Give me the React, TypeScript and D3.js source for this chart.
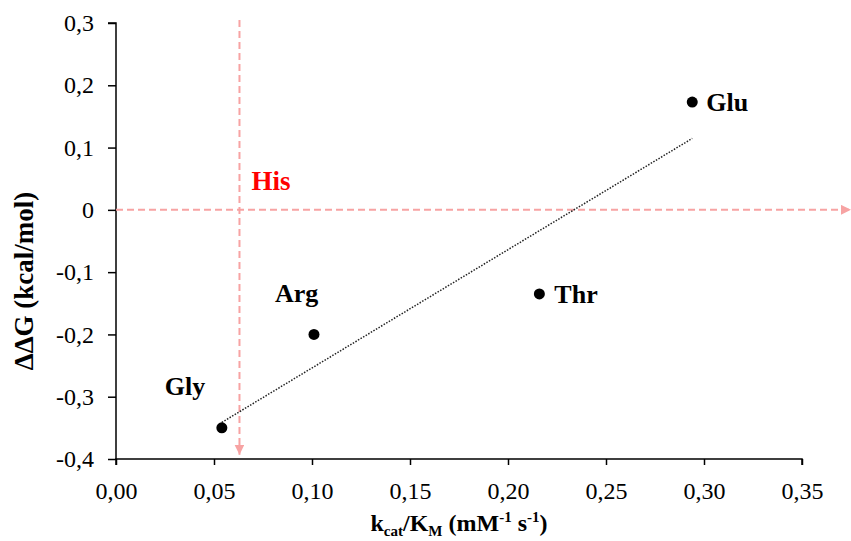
import { useEffect, useRef } from 'react';
import * as d3 from 'd3';

const residues = ['Gly', 'Arg', 'Thr', 'Glu'];
const kcatKm = [0.054, 0.101, 0.216, 0.294];
const ddG = [-0.35, -0.2, -0.135, 0.173];

const xTicks = [0, 0.05, 0.1, 0.15, 0.2, 0.25, 0.3, 0.35];
const yTicks = [-0.4, -0.3, -0.2, -0.1, 0, 0.1, 0.2, 0.3];

// His reference lines (data units)
const hisX = 0.063;
const hisY = 0;
const hisVTop = 0.305;
const hisVBottom = -0.393;
const hisHEnd = 0.375;

// label placement relative to each dot, in px
const labelOffset: Record<string, [number, number]> = {
  Gly: [-57, -33],
  Arg: [-39, -32],
  Thr: [15, 9],
  Glu: [14, 9],
};

const W = 851;
const H = 541;
const FONT = '"Liberation Serif", "Times New Roman", serif';
const PINK = '#f7a3a3';

export default function App() {
  const svgRef = useRef<SVGSVGElement>(null);

  useEffect(() => {
    if (!svgRef.current) return;
    const svg = d3.select(svgRef.current);
    svg.selectAll('*').remove();

    const x = d3.scaleLinear().domain([0, 0.35]).range([116, 802]);
    const y = d3.scaleLinear().domain([-0.4, 0.3]).range([459, 23]);

    const defs = svg.append('defs');
    defs.append('marker')
      .attr('id', 'arrow')
      .attr('viewBox', '0 0 10 10')
      .attr('refX', 10)
      .attr('refY', 5)
      .attr('markerWidth', 10)
      .attr('markerHeight', 10)
      .attr('markerUnits', 'userSpaceOnUse')
      .attr('orient', 'auto')
      .append('path')
      .attr('d', 'M0,0 L10,5 L0,10 Z')
      .attr('fill', PINK);

    // axes
    const yAxis = svg.append('g')
      .attr('transform', `translate(${x(0)},0)`)
      .call(d3.axisLeft(y).tickValues(yTicks).tickSize(8).tickPadding(14)
        .tickFormat(d => (+d === 0 ? '0' : (+d).toFixed(1).replace('.', ','))));
    const xAxis = svg.append('g')
      .attr('transform', `translate(0,${y(-0.4)})`)
      .call(d3.axisBottom(x).tickValues(xTicks).tickSize(6).tickPadding(17)
        .tickFormat(d => (+d).toFixed(2).replace('.', ',')));

    [xAxis, yAxis].forEach(ax => {
      ax.selectAll('.domain').attr('stroke', '#000').attr('stroke-width', 1.5);
      ax.selectAll('.tick line').attr('stroke', '#000').attr('stroke-width', 1.5);
      ax.selectAll('.tick text')
        .attr('fill', '#000')
        .attr('font-family', FONT)
        .attr('font-size', 24);
    });
    yAxis.select('.domain').attr('d', `M-8,${y(0.3)}H0V${y(-0.4)}`);
    xAxis.select('.domain').attr('d', `M${x(0)},6V0H${x(0.35)}V6`);

    // His reference lines
    svg.append('line')
      .attr('x1', x(0)).attr('x2', x(hisHEnd))
      .attr('y1', y(hisY)).attr('y2', y(hisY))
      .attr('stroke', PINK).attr('stroke-width', 2)
      .attr('stroke-dasharray', '7,4')
      .attr('marker-end', 'url(#arrow)');
    svg.append('line')
      .attr('x1', x(hisX)).attr('x2', x(hisX))
      .attr('y1', y(hisVTop)).attr('y2', y(hisVBottom))
      .attr('stroke', PINK).attr('stroke-width', 2)
      .attr('stroke-dasharray', '7,4')
      .attr('marker-end', 'url(#arrow)');
    svg.append('text')
      .attr('x', x(hisX) + 12)
      .attr('y', y(hisY) - 20)
      .attr('fill', '#ff0000')
      .attr('font-family', FONT)
      .attr('font-weight', 'bold')
      .attr('font-size', 27)
      .text('His');

    // linear trendline
    const pts = kcatKm.map((k, i) => [k, ddG[i]] as [number, number]);
    const mx = d3.mean(kcatKm)!;
    const my = d3.mean(ddG)!;
    const slope = d3.sum(pts, p => (p[0] - mx) * (p[1] - my)) / d3.sum(pts, p => (p[0] - mx) ** 2);
    const icpt = my - slope * mx;
    const [x0, x1] = d3.extent(kcatKm) as [number, number];
    svg.append('line')
      .attr('x1', x(x0)).attr('y1', y(slope * x0 + icpt))
      .attr('x2', x(x1)).attr('y2', y(slope * x1 + icpt))
      .attr('stroke', '#222').attr('stroke-width', 1.5)
      .attr('stroke-dasharray', '1.5,1.5');

    // points
    svg.selectAll('circle.pt')
      .data(pts)
      .join('circle')
      .attr('class', 'pt')
      .attr('cx', d => x(d[0]))
      .attr('cy', d => y(d[1]))
      .attr('r', 5.5)
      .attr('fill', '#000');

    svg.selectAll('text.lbl')
      .data(residues)
      .join('text')
      .attr('class', 'lbl')
      .attr('x', (d, i) => x(kcatKm[i]) + labelOffset[d][0])
      .attr('y', (d, i) => y(ddG[i]) + labelOffset[d][1])
      .attr('font-family', FONT)
      .attr('font-weight', 'bold')
      .attr('font-size', 26)
      .attr('fill', '#000')
      .text(d => d);

    // axis titles
    const xt = svg.append('text')
      .attr('x', (x(0) + x(0.35)) / 2)
      .attr('y', 531)
      .attr('text-anchor', 'middle')
      .attr('font-family', FONT)
      .attr('font-weight', 'bold')
      .attr('font-size', 24)
      .attr('fill', '#000');
    xt.append('tspan').text('k');
    xt.append('tspan').attr('font-size', 15).attr('dy', 5).text('cat');
    xt.append('tspan').attr('dy', -5).text('/K');
    xt.append('tspan').attr('font-size', 15).attr('dy', 5).text('M');
    xt.append('tspan').attr('dy', -5).text(' (mM');
    xt.append('tspan').attr('font-size', 15).attr('dy', -9).text('-1');
    xt.append('tspan').attr('dy', 9).text(' s');
    xt.append('tspan').attr('font-size', 15).attr('dy', -9).text('-1');
    xt.append('tspan').attr('dy', 9).text(')');

    svg.append('text')
      .attr('transform', `translate(33,${281}) rotate(-90)`)
      .attr('text-anchor', 'middle')
      .attr('font-family', FONT)
      .attr('font-weight', 'bold')
      .attr('font-size', 27)
      .attr('fill', '#000')
      .text('ΔΔG (kcal/mol)');
  }, []);

  return (
    <svg
      ref={svgRef}
      width={W}
      height={H}
      style={{ position: 'absolute', left: 0, top: 0, background: '#fff' }}
    />
  );
}
